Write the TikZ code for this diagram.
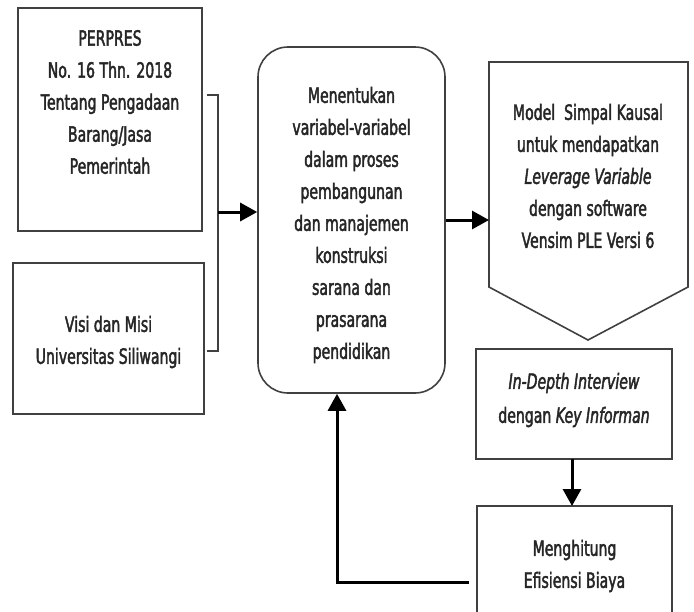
\documentclass[tikz,border=0pt]{standalone}
\usepackage{fontspec}
\setmainfont{DejaVu Sans}[FakeStretch=0.67, FakeBold=2]
\usetikzlibrary{arrows.meta}
\begin{document}
\begin{tikzpicture}[x=1pt,y=-1pt,
  frame/.style={draw=black!75, line width=1.6pt, inner sep=0pt},
  txt/.style={align=center, text=black!85, inner sep=0pt,
    font=\fontsize{21}{32}\selectfont},
  flow/.style={line width=3pt, -{Triangle[length=17pt,width=18pt]}},
  link/.style={draw=black!75, line width=1.6pt}]
\useasboundingbox (0,0) rectangle (694,611);

% left input boxes
\node[frame, minimum width=184pt, minimum height=223pt] (perpres) at (110,119.5) {};
\node[txt] (perpresT) at (110,102) {PERPRES\\No. 16 Thn. 2018\\Tentang Pengadaan\\Barang/Jasa\\Pemerintah};
\node[frame, minimum width=191pt, minimum height=151pt] (visi) at (108.5,338.5) {};
\node[txt] (visiT) at (108.5,342) {Visi dan Misi\\Universitas Siliwangi};

% central process
\node[frame, rounded corners=30pt, minimum width=187pt, minimum height=346pt] (var) at (351.5,220) {};
\node[txt] (varT) at (351.5,225) {Menentukan\\variabel-variabel\\dalam proses\\pembangunan\\dan manajemen\\konstruksi\\sarana dan\\prasarana\\pendidikan};

% model block (pentagon pointing down)
\coordinate (modW) at (489,220);
\coordinate (modTip) at (588,340);
\draw[link, line join=miter] (489,62) -- (688,62) -- (688,287) -- (modTip) -- (489,287) -- cycle;
\node[txt] (modT) at (588,176) {Model\ \ Simpal Kausal\\untuk mendapatkan\\\textit{Leverage Variable}\\dengan software\\Vensim PLE Versi 6};

% interview and cost boxes
\node[frame, minimum width=196pt, minimum height=110pt] (intv) at (574,404) {};
\node[txt, font=\fontsize{21}{34}\selectfont] (intvT) at (574,400) {\textit{In-Depth Interview}\\dengan \textit{Key Informan}};
\node[frame, minimum width=195pt, minimum height=160pt] (cost) at (574.5,586) {};
\node[txt] (costT) at (574.5,566) {Menghitung\\Efisiensi Biaya};

% bracket joining the two inputs
\coordinate (brA) at (218,95);
\coordinate (brB) at (218,351);
\coordinate (brM) at (218,212);
\draw[link] (207,95) -- (brA) -- (brB) -- (207,351);
\draw[flow] (brM) -- (var.west |- brM);

% main flow
\draw[flow] (var.east |- modW) -- (modW);
\draw[flow] (572,459) -- (572,506);
\coordinate (fbCorner) at (337,582);
\draw[flow] (cost.west |- fbCorner) ++(-7,0) -- (fbCorner) -- (var.south -| fbCorner);
\end{tikzpicture}
\end{document}
